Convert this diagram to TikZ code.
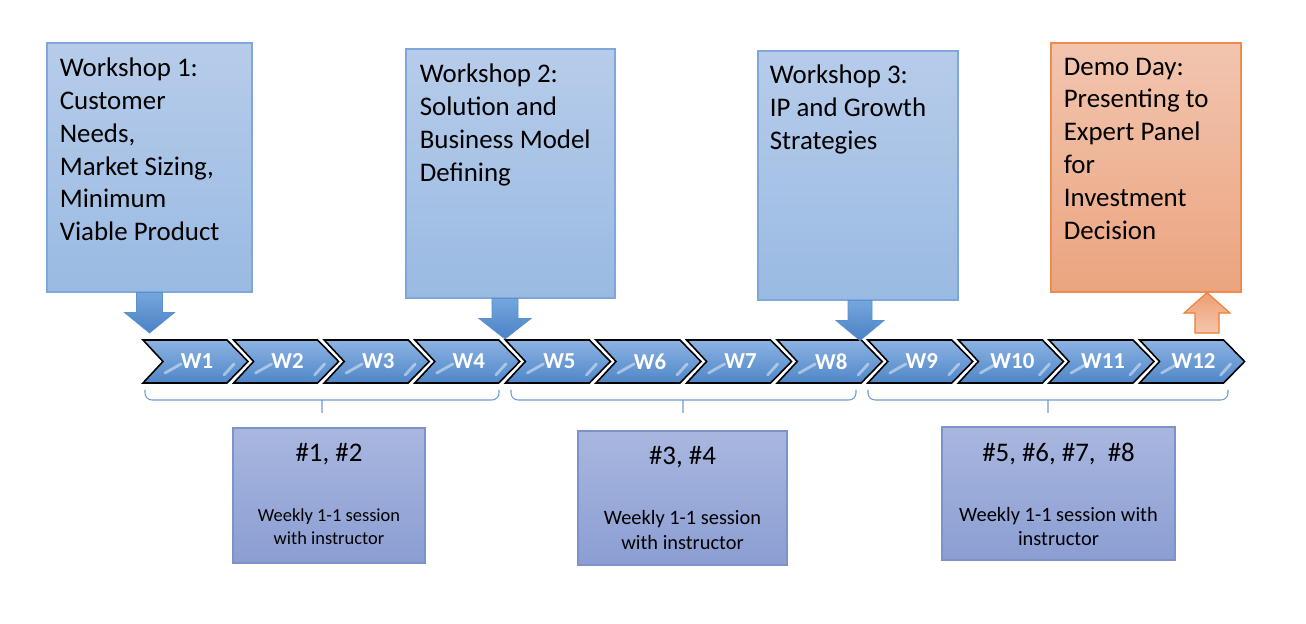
\documentclass[tikz,border=0pt]{standalone}
\usepackage{fontspec}
\setmainfont{Carlito}
\usetikzlibrary{calc,fit}
\definecolor{WSTop}{HTML}{B7CCEA}
\definecolor{WSBot}{HTML}{99BAE2}
\definecolor{WSLine}{HTML}{7FA7D9}
\definecolor{ArrTop}{HTML}{75A6DE}
\definecolor{ArrBot}{HTML}{4A82C5}
\definecolor{ArrLine}{HTML}{5B8FD0}
\definecolor{DemoTop}{HTML}{F2C5AF}
\definecolor{DemoBot}{HTML}{EBA47F}
\definecolor{DemoLine}{HTML}{ED8C50}
\definecolor{OArrTop}{HTML}{EE9D74}
\definecolor{OArrBot}{HTML}{F5C6AD}
\definecolor{OArrLine}{HTML}{ED7D31}
\definecolor{SesTop}{HTML}{A9B7DF}
\definecolor{SesBot}{HTML}{8B9ED3}
\definecolor{SesLine}{HTML}{7D92C8}
\definecolor{ChevTop}{HTML}{8CB3E3}
\definecolor{ChevBot}{HTML}{4F86C7}
\definecolor{BraceLine}{HTML}{6C9BD2}

\begin{document}
\begin{tikzpicture}[x=0.02cm,y=-0.02cm,
  wsbox/.style={draw=WSLine,line width=0.6pt,top color=WSTop,bottom color=WSBot,inner sep=0pt},
  demobox/.style={draw=DemoLine,line width=0.6pt,top color=DemoTop,bottom color=DemoBot,inner sep=0pt},
  wstext/.style={anchor=north west,inner sep=0pt,align=left,font=\fontsize{15.3}{18.7}\selectfont},
  sesbox/.style={draw=SesLine,line width=0.6pt,top color=SesTop,bottom color=SesBot,inner sep=0pt},
  sestext/.style={anchor=north,inner sep=0pt,align=center,font=\fontsize{10.5}{13}\selectfont},
  sestextl/.style={sestext,font=\fontsize{11.6}{14.1}\selectfont},
  chev/.style={draw=black,line width=0.9pt,top color=ChevTop,bottom color=ChevBot},
  gloss/.style={white,opacity=0.45,line width=1.6pt,line cap=round},
  chevtext/.style={text=white,inner sep=0pt,font=\fontsize{13}{15}\selectfont\bfseries},
  blockarrow/.style={draw=ArrLine,line width=0.4pt,top color=ArrTop,bottom color=ArrBot},
  uparrow/.style={draw=OArrLine,line width=0.6pt,top color=OArrTop,bottom color=OArrBot},
  brace/.style={BraceLine,line width=0.6pt,rounded corners=4}]
\path[use as bounding box] (0,0) rectangle (1306,624);

\node[wsbox,fit={(47,43) (252,292)}] (ws1) {};
\node[wstext] (ws1t) at ($(ws1.north west)+(13,15)$) {Workshop 1:\\Customer\\Needs,\\Market Sizing,\\Minimum\\Viable Product};
\node[wsbox,fit={(406,49) (615,298)}] (ws2) {};
\node[wstext] (ws2t) at ($(ws2.north west)+(14,15)$) {Workshop 2:\\Solution and\\Business Model\\Defining};
\node[wsbox,fit={(758,51) (958,300)}] (ws3) {};
\node[wstext] (ws3t) at ($(ws3.north west)+(12,14)$) {Workshop 3:\\IP and Growth\\Strategies};
\node[demobox,fit={(1051,43) (1241,292)}] (demo) {};
\node[wstext] (demot) at ($(demo.north west)+(13,15)$) {Demo Day:\\Presenting to\\Expert Panel\\for\\Investment\\Decision};

\draw[chev] (143,340) -- ++(84,0) -- ++(21,21.5) -- ++(-21,21.5) -- ++(-84,0) -- ++(20,-21.5) -- cycle;
\draw[gloss] (165,373) -- ++(16,-9) (224,375) -- ++(10,-11);
\node[chevtext] (w1) at (197,361.5) {W1};
\draw[chev] (233.6,340) -- ++(84,0) -- ++(21,21.5) -- ++(-21,21.5) -- ++(-84,0) -- ++(20,-21.5) -- cycle;
\draw[gloss] (255.6,373) -- ++(16,-9) (314.6,375) -- ++(10,-11);
\node[chevtext] (w2) at (287.6,361.5) {W2};
\draw[chev] (324.2,340) -- ++(84,0) -- ++(21,21.5) -- ++(-21,21.5) -- ++(-84,0) -- ++(20,-21.5) -- cycle;
\draw[gloss] (346.2,373) -- ++(16,-9) (405.2,375) -- ++(10,-11);
\node[chevtext] (w3) at (378.2,361.5) {W3};
\draw[chev] (414.8,340) -- ++(84,0) -- ++(21,21.5) -- ++(-21,21.5) -- ++(-84,0) -- ++(20,-21.5) -- cycle;
\draw[gloss] (436.8,373) -- ++(16,-9) (495.8,375) -- ++(10,-11);
\node[chevtext] (w4) at (468.8,361.5) {W4};
\draw[chev] (505.4,340) -- ++(84,0) -- ++(21,21.5) -- ++(-21,21.5) -- ++(-84,0) -- ++(20,-21.5) -- cycle;
\draw[gloss] (527.4,373) -- ++(16,-9) (586.4,375) -- ++(10,-11);
\node[chevtext] (w5) at (559.4,361.5) {W5};
\draw[chev] (596,340) -- ++(84,0) -- ++(21,21.5) -- ++(-21,21.5) -- ++(-84,0) -- ++(20,-21.5) -- cycle;
\draw[gloss] (618,373) -- ++(16,-9) (677,375) -- ++(10,-11);
\node[chevtext] (w6) at (650,361.5) {W6};
\draw[chev] (686.6,340) -- ++(84,0) -- ++(21,21.5) -- ++(-21,21.5) -- ++(-84,0) -- ++(20,-21.5) -- cycle;
\draw[gloss] (708.6,373) -- ++(16,-9) (767.6,375) -- ++(10,-11);
\node[chevtext] (w7) at (740.6,361.5) {W7};
\draw[chev] (777.2,340) -- ++(84,0) -- ++(21,21.5) -- ++(-21,21.5) -- ++(-84,0) -- ++(20,-21.5) -- cycle;
\draw[gloss] (799.2,373) -- ++(16,-9) (858.2,375) -- ++(10,-11);
\node[chevtext] (w8) at (831.2,361.5) {W8};
\draw[chev] (867.8,340) -- ++(84,0) -- ++(21,21.5) -- ++(-21,21.5) -- ++(-84,0) -- ++(20,-21.5) -- cycle;
\draw[gloss] (889.8,373) -- ++(16,-9) (948.8,375) -- ++(10,-11);
\node[chevtext] (w9) at (921.8,361.5) {W9};
\draw[chev] (958.4,340) -- ++(84,0) -- ++(21,21.5) -- ++(-21,21.5) -- ++(-84,0) -- ++(20,-21.5) -- cycle;
\draw[gloss] (980.4,373) -- ++(16,-9) (1039.4,375) -- ++(10,-11);
\node[chevtext] (w10) at (1012.4,361.5) {W10};
\draw[chev] (1049,340) -- ++(84,0) -- ++(21,21.5) -- ++(-21,21.5) -- ++(-84,0) -- ++(20,-21.5) -- cycle;
\draw[gloss] (1071,373) -- ++(16,-9) (1130,375) -- ++(10,-11);
\node[chevtext] (w11) at (1103,361.5) {W11};
\draw[chev] (1139.6,340) -- ++(84,0) -- ++(21,21.5) -- ++(-21,21.5) -- ++(-84,0) -- ++(20,-21.5) -- cycle;
\draw[gloss] (1161.6,373) -- ++(16,-9) (1220.6,375) -- ++(10,-11);
\node[chevtext] (w12) at (1193.6,361.5) {W12};

\draw[blockarrow] ($(ws1.south)+(-13,0)$) -- ++(26,0) -- ++(0,20) -- ++(12,0) -- ++(-25,20.5) -- ++(-25,-20.5) -- ++(12,0) -- cycle;
\draw[blockarrow] ($(ws2.south)+(-18.5,0)$) -- ++(26,0) -- ++(0,20) -- ++(13,0) -- ++(-26,20.5) -- ++(-26,-20.5) -- ++(13,0) -- cycle;
\draw[blockarrow] ($(ws3.south)+(-10,0)$) -- ++(24,0) -- ++(0,20) -- ++(12,0) -- ++(-24,20) -- ++(-24,-20) -- ++(12,0) -- cycle;
\draw[uparrow] ($(demo.south)+(61,0)$) -- ++(23,20.5) -- ++(-11,0) -- ++(0,20) -- ++(-24,0) -- ++(0,-20) -- ++(-11,0) -- cycle;

\draw[brace] (145,390) -- (145,400) -- (499,400) -- (499,390) (322,400) -- (322,413);
\draw[brace] (511,390) -- (511,400) -- (856,400) -- (856,390) (683,400) -- (683,413);
\draw[brace] (868,390) -- (868,400) -- (1228,400) -- (1228,390) (1048,400) -- (1048,413);

\node[sesbox,fit={(233,428) (425,563)}] (s1) {};
\node[sestext] (s1t) at ($(s1.north)+(0,15.5)$) {{\fontsize{15.3}{18.7}\selectfont\#1, \#2}\\[21pt]Weekly 1-1 session\\with instructor};
\node[sesbox,fit={(578,431) (787,565)}] (s2) {};
\node[sestextl] (s2t) at ($(s2.north)+(0,15.5)$) {{\fontsize{15.3}{18.7}\selectfont\#3, \#4}\\[20pt]Weekly 1-1 session\\with instructor};
\node[sesbox,fit={(942,427) (1175,560)}] (s3) {};
\node[sestextl] (s3t) at ($(s3.north)+(0,16)$) {{\fontsize{15.3}{18.7}\selectfont\#5, \#6, \#7, \ \#8}\\[20pt]Weekly 1-1 session with\\instructor};
\end{tikzpicture}
\end{document}
